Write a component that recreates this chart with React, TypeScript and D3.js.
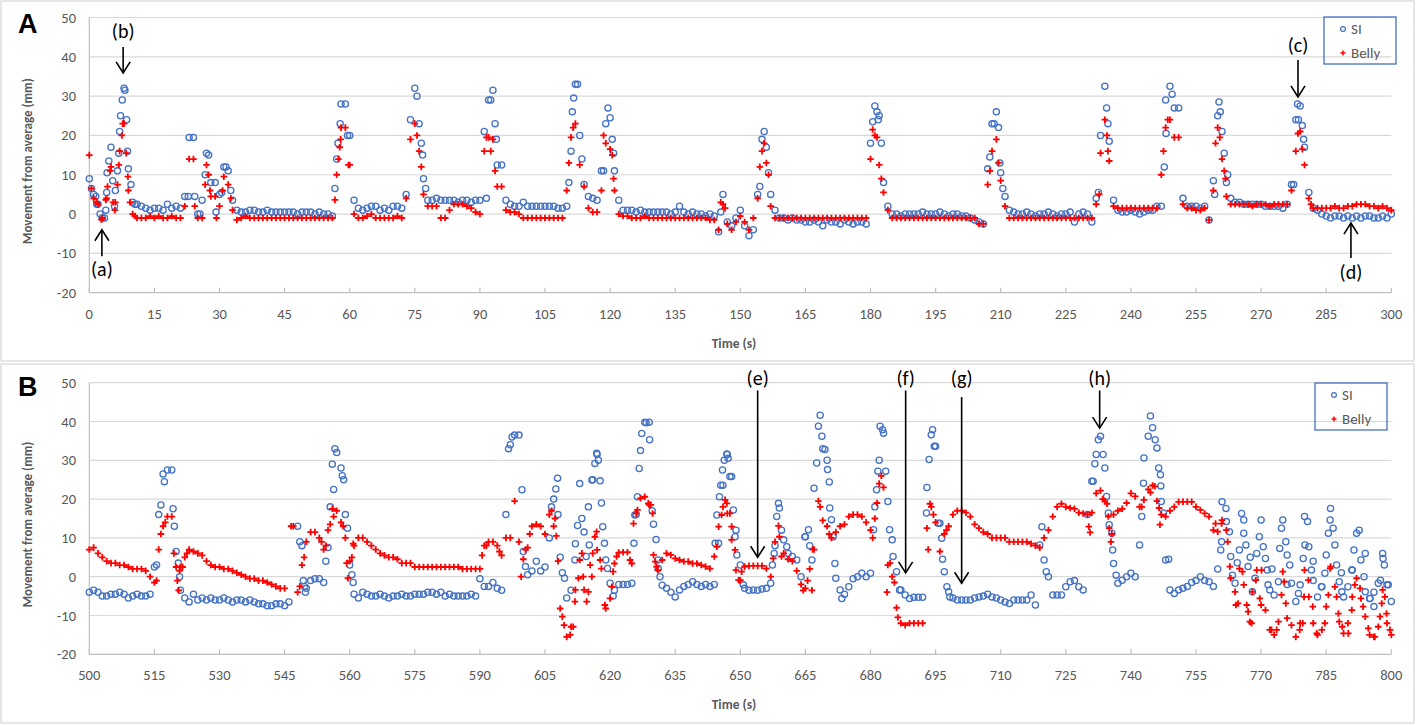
import * as d3 from 'd3'

// ---- Panel A: 0–300 s (one reading per second + extra readings inside peaks)
const timeA = d3.range(0, 301)
const siA = [
  9, 5, 2.5, -1, 5.5, 17, 6, 21, 32, 11.5, 3, 2.5, 2, 1.5, 1,
  1.5, 1.5, 1, 2.5, 1.5, 2, 1.5, 4.5, 19.5, 19.5, 0, 3.5, 15.5, 8, 8,
  5, 12, 11, 3.5, 1, 0.5, 0.5, 1, 1, 0.5, 0.5, 1, 0.5, 0.5, 0.5,
  0.5, 0.5, 0.5, 0, 0.5, 0.5, 0.5, 0, 0.5, 0, 0, -0.5, 14, 28, 28,
  20, 3.5, 1.5, 1, 1.5, 2, 2, 1, 1.5, 1, 2, 2, 1.5, 5, 24,
  32, 23, 9, 3.5, 3.5, 4, 3.5, 3.5, 3.5, 3.5, 3, 3.5, 3.5, 3, 3.5,
  3.5, 21, 29, 31.5, 12.5, 12.5, 3.5, 2.5, 2, 2, 3, 2, 2, 2, 2,
  2, 2, 2, 1.5, 1.5, 2, 16, 33, 20, 7.5, 4.5, 4, 3.5, 11, 23,
  24.5, 11, 3.5, 1, 1, 1, 0.5, 1, 0.5, 0.5, 0.5, 0.5, 0.5, 0.5, 0,
  0.5, 2, 0.5, 0, 0.5, 0, 0, -0.5, 0, -0.5, -4.5, 5, -2, -3, -1,
  1, -3, -5.5, -4, 5, 19, 17, 5, 1, -1, -1, -1.5, -1, -1.5, -1.5,
  -2, -2, -1.5, -2, -3, -1.5, -2, -2, -2.5, -1.5, -2, -2.5, -2, -2, -2.5,
  18, 27.5, 25, 8, 2, 0, 0, -0.5, 0, 0, 0, 0, 0.5, 0, 0,
  0, 0.5, 0, -0.5, 0, 0, -0.5, -0.5, -1, -1.5, -2, -2.5, 11.5, 23, 26,
  10.5, 4.5, 1, 0.5, 0, 0, 0.5, 0, -0.5, 0, 0, 0.5, 0, -0.5, 0,
  0, 0.5, -2, 0, 0.5, 0, -2, 4, 20, 32.5, 18.5, 3.5, 1, 0.5, 0.5,
  1, 0.5, 0, 0.5, 1, 1, 2, 2, 29, 32.5, 27, 27, 4, 2, 2,
  2, 1.5, 2, -1.5, 8.5, 25, 21, 8, 4, 3, 3, 2.5, 2.5, 2.5, 2.5,
  2.5, 2, 2, 2, 2, 1.5, 2.5, 7.5, 24, 27.5, 17, 5.5, 1.5, 1, 0,
  -0.5, -1, -0.5, -0.5, -1, -0.5, -1, -0.5, -1, -0.5, -0.5, -1, -1, -0.5, -1,
  0,
]
const bellyA = [
  15, 4, 2.5, -1, 4, 12, 3, 16, 23, 6, 0, -1, -1, -1, -0.5,
  -1, -0.5, -1, -1, -0.5, -1, -1, 2, 14, 14, -1, -1, 12.5, 4.5, 4.5,
  2, 9.5, 7.5, 1, -1.5, -1, -0.5, -1, -1, -1, -1, -1, -1, -1, -1,
  -1, -1, -1, -1, -1, -1, -1, -1, -1, -1, -1, -1, 10, 22, 22,
  12.5, 0, -1, -1, -0.5, 0, -1, -1, -1, -1, -1, -0.5, -1, 4, 19,
  23, 16, 5, 2, 2, 2, -1, -1, 1, 2.5, 2.5, 2.5, 2, 1.5, 0.5,
  0, 16, 19.5, 19, 7, 7, 1, 0.5, 0.5, 0, -1, -1, -1, -1, -1,
  -1, -1, -1, -1, -1, 6, 19.5, 23, 12.5, 7, 1.5, 0.5, 0.5, 6, 18,
  16.5, 6, 0, -0.5, -0.5, -1, -1, -1, -0.5, -1, -1, -1, -1, -1, -1,
  -1, -1, -1, -1, -1, -1, -1, -1, -1.5, -1.5, -4, 2.5, -2.5, -4, -2,
  -0.5, -2, -4, -1, 4, 16, 13, 2, -1, -1, -1, -1, -1, -1, -1,
  -1, -1, -1, -1, -1, -1, -1, -1, -1, -1, -1, -1, -1, -1, -1,
  14, 20, 12.5, 5.5, 1, -1, -1, -1, -1, -1, -1, -1, -1, -1, -1,
  -1, -1, -1, -1, -1, -1, -1, -1, -1, -1, -2.5, -2.5, 7.5, 16, 19,
  8.5, 2, -1, -1, -1, -1, -1, -1, -1, -1, -1, -1, -1, -1, -1,
  -1, -1, -1, -1, -1, -1, -1, 2.5, 15.5, 24, 13.5, 2, 1.5, 1.5, 1.5,
  1.5, 1.5, 1.5, 1.5, 1.5, 1.5, 1.5, 10, 22, 24, 19.5, 19.5, 2.5, 1.5, 1.5,
  1, 1, 1.5, -1.5, 6, 22, 14, 4.5, 2.5, 2.5, 2.5, 2.5, 2.5, 2, 2.5,
  2.5, 2.5, 2, 2.5, 2.5, 2.5, 2.5, 6, 16, 21, 12.5, 4, 1.5, 1.5, 1.5,
  1.5, 1.5, 2, 1.5, 1.5, 2, 2, 2.5, 2.5, 2.5, 2, 2, 1.5, 2, 1.5,
  1,
]
const siAExtra: [number, number][] = [
  [0.5, 6.5], [1.5, 4.5], [1.7, 2.5], [2.5, 0], [3.5, -1], [3.8, 1], [4.1, 10.5], [4.5, 13.5],
  [5.4, 8.5], [5.8, 2], [6.5, 11], [6.8, 15.5], [7.2, 25], [7.6, 29], [8.2, 31.5], [8.6, 24],
  [8.8, 16], [9.6, 7.5], [10.5, 2.5], [22.8, 4.5], [24.3, 4.5], [25.5, 0], [26.7, 10], [27.5, 15],
  [29.2, 0.5], [30.5, 5.5], [31.5, 12], [32.6, 6], [56.6, 6.5], [57.3, 18], [57.8, 23], [59.5, 20],
  [75.5, 30], [76.5, 18], [76.8, 15], [77.5, 6.5], [91.5, 4], [92.5, 29], [93.5, 23], [93.8, 19],
  [110.5, 8], [111.3, 26], [111.6, 29.5], [112.5, 33], [113.5, 14], [118.5, 11], [119.5, 27],
  [120.5, 19], [120.8, 15.5], [145.5, 0.5], [154.5, 7], [155.5, 21], [156.5, 10.5], [180.5, 23.5],
  [181.5, 26], [181.8, 24], [182.5, 18], [207.5, 14.5], [208.5, 23], [209.5, 22], [209.8, 13],
  [210.5, 6.5], [232.5, 5.5], [234.4, 27], [234.7, 23], [247.7, 12], [248.1, 20.5], [249.5, 30.5],
  [259.3, 5], [260.3, 28.5], [260.6, 26], [261.5, 15.5], [262.3, 10], [277.5, 7.5], [278.4, 28],
  [278.6, 24], [279.5, 22.5], [279.8, 19],
]
const bellyAExtra: [number, number][] = [
  [0.5, 6.5], [1.7, 3], [2.8, -1.4], [3.8, 3.6], [4.2, 7], [4.8, 11], [5.5, 3], [5.9, 1],
  [6.5, 7.5], [6.8, 12.5], [7.5, 20], [7.7, 23], [8.5, 15.5], [8.9, 9.5], [9.4, 3], [10.5, -0.5],
  [24.3, 2], [26.7, 7.5], [27.5, 10], [27.8, 6], [29.3, -1], [30.7, 6], [32.6, 4], [56.6, 3.6],
  [57.4, 14], [57.7, 17], [57.9, 19], [59.7, 12.5], [75.5, 20], [76.5, 12], [91.5, 19.5],
  [92.5, 16], [93.5, 11], [110.5, 13], [111.5, 22], [118.5, 20], [120.5, 15], [120.8, 9],
  [145.5, 3], [146.5, 1.5], [154.5, 12], [155.5, 18], [156.5, 10], [180.5, 21.5], [181.5, 19.5],
  [182.5, 9], [207.5, 11], [209.5, 13], [232.7, 5], [234.5, 20], [234.7, 16], [247.5, 16],
  [248.5, 24], [259.5, 18], [260.5, 19.5], [261.5, 11], [261.8, 9], [278.5, 20.5], [279.5, 16.5],
  [281.5, 2.5],
]

// ---- Panel B: 500–800 s
const timeB = d3.range(500, 801)
const siB: (number | null)[] = [
  -4, -3.5, -4, -5, -5, -4.5, -4.5, -4, -4.5, -5.5, -5, -4.5, -5, -5, -4.5,
  2.5, 16, 26.5, 27.5, 27.5, 6.5, -3.5, -5.5, -6.5, -4.5, -6, -5.5, -6, -5.5, -6,
  -6, -5.5, -6, -6.5, -6, -6, -6.5, -6, -6.5, -7, -7, -7.5, -7.5, -7, -7,
  -7.5, -6.5, null, 13, 8, -3, -1, -0.5, -0.5, -1.5, 7.5, 29, 32, 28, 16,
  3, -4.5, -5.5, -4, -4.5, -5, -5, -4.5, -5, -5.5, -5, -5, -4.5, -5, -5,
  -4.5, -4.5, -4.5, -4, -4, -4.5, -4, -5, -4.5, -5, -5, -5, -5, -4.5, -5,
  -0.5, -2.5, -2.5, -1.5, -3, -3.5, 16, 34, 36.5, 36.5, 6.5, 0.5, 1.5, 4, 1.5,
  2.5, 10, 20, 16, 1, -5.5, -3.5, 8.5, 24, 11.5, 18, 25, 31.5, 19, 4.3,
  -1.7, -3.5, -2, -2, -2, -1.7, 16, 32.5, 39.8, 39.8, 13.5, 4.3, -2.2, -3, -4,
  -5.2, -3.4, -2.5, -2, -1.3, -2, -2.5, -2, -2.5, -2, 8.6, 23.6, 31.5, 25.8, 12,
  3, -3, -3.5, -3.4, -3.5, -3.2, -3, -1.7, 8, 17.7, 9.5, 6, 5.2, 4.3, 0,
  10.3, 8, 22.8, 38.8, 33, 30, 14.7, -0.4, -3.4, -4.5, -2.6, -0.5, 0, 0.9, 0,
  0.9, 18, 30, 37, 19.4, 9.5, 1.3, -3.4, -4.7, -5.6, -5.3, -5.3, -5.3, 23, 36.6,
  33.6, 13.8, 1.3, -3.9, -5.5, -6, -6, -6, -6, -5.5, -5.2, -5, -4.5, -5.2, -5.5,
  -6, -6.5, -6.9, -6, -6, -6, -6, -4.7, -7.3, 8.2, 4.3, 0, -4.7, -4.7, -4.7,
  -2.6, -1.3, -1, -2.6, -3.4, 16, 24.6, 31.5, 36.2, 28, 13.4, 3.4, -1.7, -0.9, 0,
  0.9, 0, 8.2, 30.6, 36.2, 38.4, 33.2, 19.4, 4.3, -3.4, -4.3, -3.4, -3, -2.5, -1.5,
  -1, 0, -1, -1.3, -2.5, 2, 19.3, 14.2, 5.2, -1.7, 6.9, 14.6, 2.6, -3.9, 6,
  14.6, 4.7, -3.4, -4.7, -1.3, 14.6, 5.6, -1.7, -6.4, -2.1, 15.5, 7.7, -1, -5.2, -2.6,
  5.6, 17.6, 8.2, -1.3, -5.2, -2.6, 1.7, 11.2, 4.3, -3.9, -5.6, -7.7, -1.7, 6, -2.1,
  -6.4,
]
const bellyB: (number | null)[] = [
  7, 7.5, 6, 5, 4, 3.5, 3.5, 3, 3, 2.5, 2, 2, 2, 1.5, 0,
  -1.5, 7, 13, 15.5, 15.5, 2.5, 2.5, 5, 7, 6.5, 6, 5.5, 4, 3, 2.5,
  2.5, 2, 2, 1.5, 1, 0.5, 0, -0.5, -0.5, -1, -1, -1.5, -2, -2.5, -3,
  -3, null, 13, -4, 3, 9, 11.5, 11.5, 10, 7, 12, 17.5, 17, 14, 10,
  4, 8, 10, 10, 9, 8, 7, 6, 5.5, 5, 5, 4.5, 3.5, 3.5, 3.5,
  2.5, 2.5, 2.5, 2.5, 2.5, 2.5, 2.5, 2.5, 2.5, 2.5, 2.5, 2, 2, 2, 2,
  2, 8, 9, 9, 8, 5.5, 10, 10, 19.5, 9, 4.5, 7.5, 13, 13.5, 13,
  11, 16, 13, 4, -10.3, -15.5, -12.9, -3.4, 4.3, -3.4, -3.9, 6, 6.9, 2.1, -8.2,
  -5.6, 3.4, 6.2, 6.3, 6.3, 3.4, 16.3, 20.2, 20.6, 18.5, 5.6, 1.7, 4.3, 6, 5.6,
  4.7, 4.3, 3.9, 3.9, 3.4, 3.4, 3, 2.6, 2.1, 5.2, 12.9, 18, 16.3, 9.5, 1.7,
  -0.9, 2.6, 2.8, 2.8, 2.8, 2.8, 2.1, 0, 9, 10.3, 6, 4.5, 4, 1.5, -2,
  -3, 2, 7, 19.5, 14.5, 13, 10, 11.5, 13, 13.5, 15.5, 16, 16, 15.5, 14,
  12, 15, 24, 23, 3, 0, -8, -12, -12.5, -12, -12, -12, -12, 12.5, 18,
  14, 6.5, 11, 13, 16, 17, 17, 16.5, 15.5, 13.5, 12.5, 11.5, 11, 10, 10,
  10, 10, 9, 9, 9, 9, 9, 8.5, 8, 7.5, 10, 12, 15.5, 18, 18.8,
  18, 17.7, 17.5, 16.5, 16.3, 16, 16.5, 21.5, 22.2, 19.5, 12.5, 16, 17, 17.5, 19,
  21.5, 20.7, 18, 19.8, 22.5, 23.5, 19.5, 16, 15.5, 17, 18, 19.3, 19.3, 19.3, 19.3,
  18, 17.2, 16.3, 15.5, 12, 11.6, 14.6, 12, -0.4, -3.9, 2.1, -2.1, -9, -3.9, 1.7,
  -7.3, -8.6, -13.7, -15, -11.6, 1.3, -10.7, -12.5, -15.5, -12, 1.7, -5.2, -12, -15, -13.7,
  -7.7, 2.6, -2.6, -11.6, -14.6, -12, -5.2, -0.4, -5.6, -10.3, -15, -15.5, -12.9, -3.4, -12,
  -15,
]
const siBExtra: [number, number][] = [
  [515.5, 3], [516.5, 18.5], [517.3, 24.5], [519.3, 17.5], [519.6, 13], [520.5, 3.5], [520.8, 0],
  [548.5, 9], [549.3, -1], [549.6, -2.5], [549.8, -4], [554.5, 4], [555.5, 18], [556.3, 22.5],
  [556.6, 33], [558.3, 26], [558.6, 25], [559.5, 12.5], [560.5, 0.5], [560.8, -1.5],
  [596.6, 33], [597.4, 36], [599.7, 22.4], [600.5, 2.6], [606.5, 18], [607.5, 22.6], [607.9, 25.4],
  [608.5, 5], [609.5, -0.4], [611.9, 4.3], [612.5, 13.2], [613.5, 15], [614.5, 5.2], [615.2, 8.2],
  [615.8, 24.9], [616.5, 29.2], [616.9, 31.8], [617.3, 30], [617.7, 24.7], [618.3, 12.9],
  [618.7, 8.6], [619.4, 2.1], [620.7, -5], [625.5, 8.6], [625.7, 15.9], [626.3, 20.6],
  [626.7, 27.9], [627.3, 36.9], [628.3, 39.7], [629.1, 35.3], [629.7, 17], [630.6, 9.6],
  [631.1, 2.1], [631.5, 0], [644.2, 8.6], [644.6, 15.9], [645.2, 20.6], [645.5, 23.6],
  [645.9, 27.5], [646.3, 30], [646.9, 31.6], [647.2, 30.5], [647.6, 25.8], [648.4, 17.2],
  [648.8, 10.3], [649.2, 5.6], [650.7, -2.1], [657.4, 3], [657.8, 6], [658.4, 15.5], [658.8, 18.9],
  [659.5, 12], [660.7, 7.7], [664.9, 10.3], [665.7, 12.1], [666.5, 4.3], [667.6, 29.3],
  [668.4, 41.6], [668.8, 36.2], [669.5, 32.8], [670.1, 27.6], [670.5, 24.4], [670.6, 17.7],
  [671.4, 10.3], [671.8, 3.4], [673.4, -5.6], [680.7, 12.1], [681.4, 22.4], [681.7, 27.2],
  [682.2, 38.8], [682.8, 37.9], [683.5, 27.2], [684.4, 12.1], [685.2, 5.2], [686.7, -3.4],
  [692.9, 16.4], [693.5, 30.2], [694.3, 37.9], [694.7, 33.6], [695.6, 13.8], [696.4, 9.9],
  [696.6, 4.5], [697.6, -2.6], [698.3, -5.2], [719.5, 12.9], [720.5, 1.3], [731.3, 24.6],
  [731.7, 29.1], [732.5, 35.3], [733.6, 31.5], [734.4, 20.7], [734.8, 16.4], [735.6, 11.2],
  [735.8, 6.9], [736.6, 0.4], [742.5, 15.5], [742.9, 24.1], [744.5, 41.4], [745.6, 35.3],
  [746.4, 28], [746.8, 26.3], [746.9, 23.4], [747.5, 16.4], [748.7, 4.5], [760.7, 6.9],
  [760.9, 9], [761.9, 17.6], [762.7, 11.6], [763.4, 0.4], [764.5, 3.6], [765.5, 16.3], [766, 11.2],
  [766.5, 8.2], [767.5, 5], [768.6, -0.4], [769.6, 10.3], [770.5, 7.7], [771.4, 1.7], [771.6, -2.1],
  [772.5, 2], [774.3, 7.3], [774.7, 12.5], [775.7, 9], [776, -2], [776.6, 3], [778.6, -4.3],
  [779.7, 4.7], [780.1, 8.2], [780.7, 14.2], [781.6, 1.7], [782, 4], [783.9, -2.6], [784.7, 0.9],
  [785.5, 11.2], [785.9, 14.6], [786.6, 12.5], [787.4, 3], [788.5, 1], [788.6, -3.9], [790.9, 1.7],
  [791.4, 6.9], [792.6, 12], [793.7, 0], [794, 6], [795.1, -5.6], [796, -4], [797.5, -0.9],
  [798.1, 4.7], [798.4, 3], [799.3, -2.1],
]
const bellyBExtra: [number, number][] = [
  [515.5, -1], [516.5, 11], [517.5, 14], [519.5, 6], [520.3, -1], [520.6, -3.5], [520.8, 1.5],
  [521.5, 2.5], [522.5, 6], [546.5, 13], [548.5, -2.5], [549.5, 5], [553.5, 9], [554.5, 8],
  [555.5, 13.5], [556.3, 15.5], [558.5, 13], [559.3, 3.5], [559.6, -0.4], [560.5, 5], [560.8, 8.5],
  [590.5, 5.5], [591.5, 8], [594.5, 6.5], [599.5, 0], [600.5, 7], [601.5, 11], [606.5, 17],
  [607.3, 15], [607.6, 10.5], [608.5, -8.2], [609.4, -12.5], [610.8, -15], [611.5, -12.9],
  [611.9, -6.4], [612.7, -0.4], [613.5, 6], [613.8, 0], [614.6, -6.4], [615.4, 3], [615.8, 0],
  [616.5, 10.3], [616.9, 11.6], [617.7, 4.3], [618.8, -7.3], [620.4, -2.6], [620.7, 1.3],
  [621.5, 5.2], [624.6, 4.3], [625.4, 13.7], [626.3, 17.2], [628.8, 18.9], [629.4, 18.5],
  [629.8, 16.3], [630.4, 3.9], [630.7, 2.6], [644.6, 7.7], [645.7, 15.9], [646.5, 19.8],
  [646.9, 18.9], [647.6, 16.3], [648, 12.9], [648.8, 6.9], [649.6, -0.9], [650.3, 1.3],
  [657.6, 4.7], [658.8, 13.1], [659.5, 5.2], [664.5, -3.5], [665.5, -1], [666.5, -3.5],
  [666.7, 7], [668.4, 18], [670.5, 11], [680.5, 10], [681.5, 19], [682.5, 26], [683.8, -4],
  [684.5, 3.5], [685.5, -1.5], [686.3, -10.5], [693.3, 7], [693.7, 18.8], [694.5, 16], [697.5, 12],
  [730.3, 12.9], [730.6, 11.4], [733.5, 20], [734.5, 18.8], [734.8, 15.5], [735.4, 9], [735.6, 11],
  [742.5, 18], [744.5, 21.7], [745.5, 23.3], [746.5, 17.7], [746.7, 13.4], [759.5, 13.7],
  [760.9, 13.7], [762.3, 9], [762.8, 2.6], [764.2, -7.3], [764.7, -6.9], [765.7, 1.3],
  [766.7, -7.3], [767.4, -11.6], [767.8, -12], [768.8, -0.9], [769.7, -5.6], [770.1, 1.7],
  [772.4, -13.7], [773.6, -13.7], [774.7, -4.7], [775.3, -1.3], [775.7, -6.9], [778.9, -13.7],
  [779.6, -12], [779.9, -5.2], [780.9, -0.9], [781.9, -7.7], [782.8, -14.6], [784.7, -12],
  [785.5, -4.7], [785.9, 2.1], [787.4, -5.2], [787.8, -9.5], [788.7, -12.9], [790.1, -14.6],
  [790.9, -8.6], [791.6, -2.1], [792.8, -3], [793.5, -7.7], [794.7, -13.3], [796.2, -15.5],
  [797.4, -10.3], [797.8, -6.9], [798.5, -5.2], [798.9, -9.5], [799.7, -13.7],
]

const yTicks = [-20, -10, 0, 10, 20, 30, 40, 50]
const xTicksA = d3.range(0, 301, 15)
const xTicksB = d3.range(500, 801, 15)

// arrows: label position and arrow start/end in data units
const notesA = [
  { label: '(a)', t: 2.9, labelV: -14.2, from: -10.7, to: -4 },
  { label: '(b)', t: 7.8, labelV: 46.3, from: 42.5, to: 35.9 },
  { label: '(c)', t: 278.5, labelV: 42.7, from: 39.2, to: 29.8 },
  { label: '(d)', t: 290.7, labelV: -15, from: -11.2, to: -2.3 },
]
const notesB = [
  { label: '(e)', t: 654, labelV: 51, from: 48, to: 5 },
  { label: '(f)', t: 688.1, labelV: 51, from: 48, to: 1 },
  { label: '(g)', t: 701, labelV: 51, from: 46.3, to: -1.7 },
  { label: '(h)', t: 732.8, labelV: 51, from: 48, to: 38.3 },
]

const BLUE = '#4472c4'
const RED = '#ff0000'
const GREY = '#595959'
const FONT = 'Carlito, "Noto Sans", "Open Sans", sans-serif'

function toPoints(times: number[], vals: (number | null)[], extra: [number, number][]) {
  const pts: [number, number][] = []
  times.forEach((t, i) => {
    const v = vals[i]
    if (v !== null && v !== undefined) pts.push([t, v])
  })
  return pts.concat(extra).sort((a, b) => a[0] - b[0])
}

interface PanelProps {
  letter: string
  frameTop: number
  frameH: number
  plotTop: number
  plotBottom: number
  t0: number
  xTicks: number[]
  si: [number, number][]
  belly: [number, number][]
  notes: { label: string; t: number; labelV: number; from: number; to: number }[]
  legendX: number
  legendY: number
}

function Panel(p: PanelProps) {
  const x = d3.scaleLinear().domain([p.t0, p.t0 + 300]).range([89.3, 1391.3])
  const y = d3.scaleLinear().domain([-20, 50]).range([p.plotBottom, p.plotTop])
  const plusPath = p.belly
    .map(([t, v]) => {
      const px = x(t), py = y(v)
      return `M${px - 3.3},${py}H${px + 3.3}M${px},${py - 3.3}V${py + 3.3}`
    })
    .join('')
  const titleY = (p.plotTop + p.plotBottom) / 2 + 6

  return (
    <g>
      <rect x={1} y={p.frameTop} width={1413} height={p.frameH} fill="#fff" stroke="#d6d6d6" strokeWidth={1.2} />
      {/* grid */}
      {yTicks.map(v => (
        <line key={v} x1={x(p.t0)} x2={x(p.t0 + 300)} y1={y(v)} y2={y(v)}
          stroke={v === -20 ? '#bfbfbf' : '#d9d9d9'} strokeWidth={1.2} />
      ))}
      <line x1={x(p.t0)} x2={x(p.t0)} y1={y(50)} y2={y(-20)} stroke="#bfbfbf" strokeWidth={1.2} />
      {p.xTicks.map(t => (
        <line key={t} x1={x(t)} x2={x(t)} y1={y(-20)} y2={y(-20) - 5} stroke="#bfbfbf" strokeWidth={1.2} />
      ))}
      {/* tick labels */}
      {yTicks.map(v => (
        <text key={v} x={76} y={y(v) + 5} textAnchor="end" fontSize={14.5} fill={GREY} fontFamily={FONT}>{v}</text>
      ))}
      {p.xTicks.map(t => (
        <text key={t} x={x(t)} y={y(-20) + 26} textAnchor="middle" fontSize={14.5} fill={GREY} fontFamily={FONT}>{t}</text>
      ))}
      <text x={734} y={y(-20) + 55} textAnchor="middle" fontSize={13.5} fontWeight="bold" fill={GREY} fontFamily={FONT}>Time (s)</text>
      <text transform={`translate(32,${titleY}) rotate(-90)`} textAnchor="middle" fontSize={13} fontWeight="bold"
        fill={GREY} fontFamily={FONT}>Movement from average (mm)</text>
      <text x={18} y={p.frameTop + 32} fontSize={27} fontWeight="bold" fill="#000"
        fontFamily='"Liberation Sans", Arial, sans-serif'>{p.letter}</text>
      {/* series */}
      <g fill="none" stroke={BLUE} strokeWidth={1.3}>
        {p.si.map(([t, v], i) => <circle key={i} cx={x(t)} cy={y(v)} r={3.1} />)}
      </g>
      <path d={plusPath} stroke={RED} strokeWidth={1.8} fill="none" />
      {/* legend (transparent box, gridlines show through) */}
      <rect x={p.legendX} y={p.legendY} width={72} height={47} fill="none" stroke={BLUE} strokeWidth={1.3} />
      <circle cx={p.legendX + 19} cy={p.legendY + 12} r={2.4} fill="none" stroke={BLUE} strokeWidth={1.2} />
      <text x={p.legendX + 27} y={p.legendY + 17} fontSize={15} fill={GREY} fontFamily={FONT}>SI</text>
      <path d={`M${p.legendX + 16.5},${p.legendY + 36}h5M${p.legendX + 19},${p.legendY + 33.5}v5`} stroke={RED} strokeWidth={1.5} />
      <text x={p.legendX + 27} y={p.legendY + 41} fontSize={15} fill={GREY} fontFamily={FONT}>Belly</text>
      {/* annotations */}
      {p.notes.map(n => {
        const px = x(n.t)
        const y1 = y(n.from), y2 = y(n.to)
        const dir = y2 > y1 ? 1 : -1
        return (
          <g key={n.label}>
            <line x1={px} x2={px} y1={y1} y2={y2} stroke="#000" strokeWidth={1.6} />
            <path d={`M${px - 7},${y2 - 11 * dir}L${px},${y2}L${px + 7},${y2 - 11 * dir}`} fill="none" stroke="#000" strokeWidth={1.6} />
            <text x={px} y={y(n.labelV) + 6} textAnchor="middle" fontSize={20} fill="#000" fontFamily={FONT}>{n.label}</text>
          </g>
        )
      })}
    </g>
  )
}

export default function App() {
  const siPtsA = toPoints(timeA, siA, siAExtra)
  const bellyPtsA = toPoints(timeA, bellyA, bellyAExtra)
  const siPtsB = toPoints(timeB, siB, siBExtra)
  const bellyPtsB = toPoints(timeB, bellyB, bellyBExtra)
  return (
    <svg width={1416} height={725} style={{ position: 'absolute', left: 0, top: 0, background: '#fff' }}>
      <rect width={1416} height={725} fill="#fff" />
      <Panel letter="A" frameTop={1} frameH={360} plotTop={17.5} plotBottom={292.7} t0={0}
        xTicks={xTicksA} si={siPtsA} belly={bellyPtsA} notes={notesA} legendX={1324} legendY={17} />
      <Panel letter="B" frameTop={364} frameH={359} plotTop={382.7} plotBottom={654.3} t0={500}
        xTicks={xTicksB} si={siPtsB} belly={bellyPtsB} notes={notesB} legendX={1315} legendY={383} />
    </svg>
  )
}
